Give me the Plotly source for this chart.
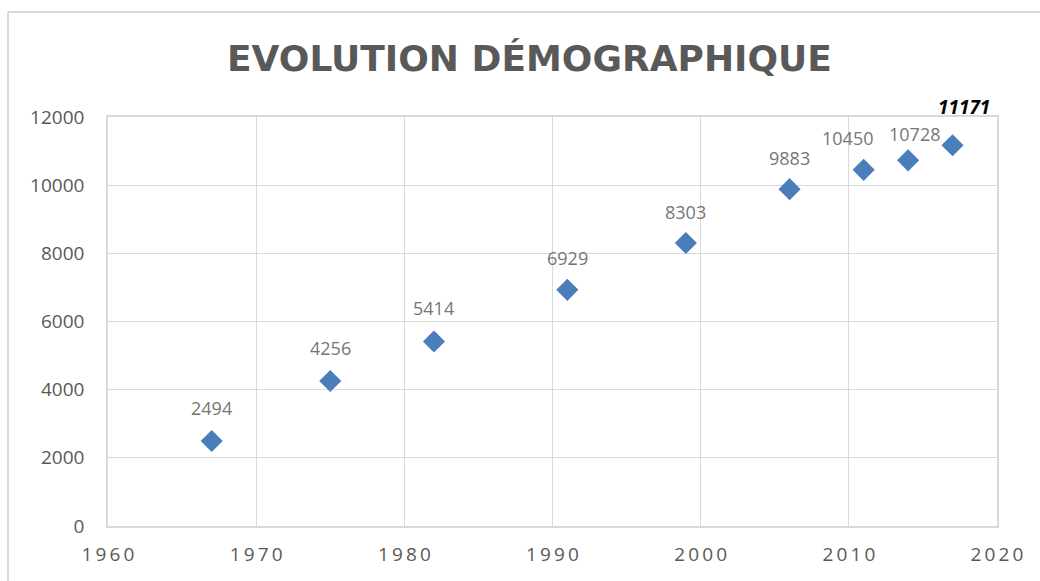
import plotly.graph_objects as go

years = [1967, 1975, 1982, 1991, 1999, 2006, 2011, 2014, 2017]
population = [2494, 4256, 5414, 6929, 8303, 9883, 10450, 10728, 11171]
x_ticks = [1960, 1970, 1980, 1990, 2000, 2010, 2020]
y_ticks = [0, 2000, 4000, 6000, 8000, 10000, 12000]
title_text = "EVOLUTION DÉMOGRAPHIQUE"

# label nudges (pixels) as placed in the original chart
label_dx = [0, 0, 0, 0, 0, 0, -16, 6, 11]
label_dy = [33, 33, 33, 32, 31, 31, 32, 26, 38]

W, H = 1040, 581
L, R, T, B = 108, 43, 117, 55
pw, ph = W - L - R, H - T - B

fig = go.Figure()
fig.add_trace(go.Scatter(
    x=years, y=population, mode="markers",
    marker=dict(symbol="diamond", size=17, color="#4a7ebb",
                line=dict(width=0)),
    hoverinfo="x+y", showlegend=False,
))

annotations = []
for i, (x, y) in enumerate(zip(years, population)):
    last = i == len(years) - 1
    if last:
        text = "<b><i>%d</i></b>" % y
        font = dict(family="Open Sans", size=19, color="#000000")
    else:
        text = str(y)
        font = dict(family="Open Sans", size=18, color="#767676")
    annotations.append(dict(
        x=x, y=y, xref="x", yref="y", text=text, showarrow=False,
        xshift=label_dx[i], yshift=label_dy[i], font=font,
    ))

annotations.append(dict(
    x=(529 - L) / pw, y=1 + (T - 58) / ph, xref="paper", yref="paper",
    text="<b>" + title_text + "</b>", showarrow=False,
    font=dict(family="DejaVu Sans", size=36, color="#595959"),
    xanchor="center", yanchor="middle",
))

spaced = ["\u2009".join(str(v)) for v in x_ticks]

fig.update_layout(
    width=W, height=H,
    margin=dict(l=L, r=R, t=T, b=B),
    paper_bgcolor="white", plot_bgcolor="white",
    annotations=annotations,
    xaxis=dict(
        range=[1960, 2020], tickmode="array", tickvals=x_ticks, ticktext=spaced,
        showgrid=True, gridcolor="#d9d9d9", gridwidth=1.3,
        showline=True, linecolor="#d9d9d9", linewidth=1.5, mirror=True,
        zeroline=False, ticks="", ticklabelstandoff=10,
        tickfont=dict(family="Open Sans", size=19, color="#595959"),
    ),
    yaxis=dict(
        range=[0, 12000], tickmode="array", tickvals=y_ticks,
        ticktext=[str(v) for v in y_ticks],
        showgrid=True, gridcolor="#d9d9d9", gridwidth=1.3,
        showline=True, linecolor="#d9d9d9", linewidth=1.5, mirror=True,
        zeroline=False, ticks="", ticklabelstandoff=18,
        tickfont=dict(family="Open Sans", size=19, color="#595959"),
    ),
    shapes=[
        dict(type="line", xref="paper", yref="paper",
             x0=(8 - L) / pw, x1=(8 - L) / pw,
             y0=(T + ph - 12) / ph, y1=(T + ph - H - 5) / ph,
             line=dict(color="#d9d9d9", width=2)),
        dict(type="line", xref="paper", yref="paper",
             x0=(8 - L) / pw, x1=(W + 5 - L) / pw,
             y0=(T + ph - 12) / ph, y1=(T + ph - 12) / ph,
             line=dict(color="#d9d9d9", width=2)),
    ],
)

fig.write_html("out.html", config={"displayModeBar": False},
               post_script="document.body.style.margin='0px';document.body.style.overflow='hidden';")
